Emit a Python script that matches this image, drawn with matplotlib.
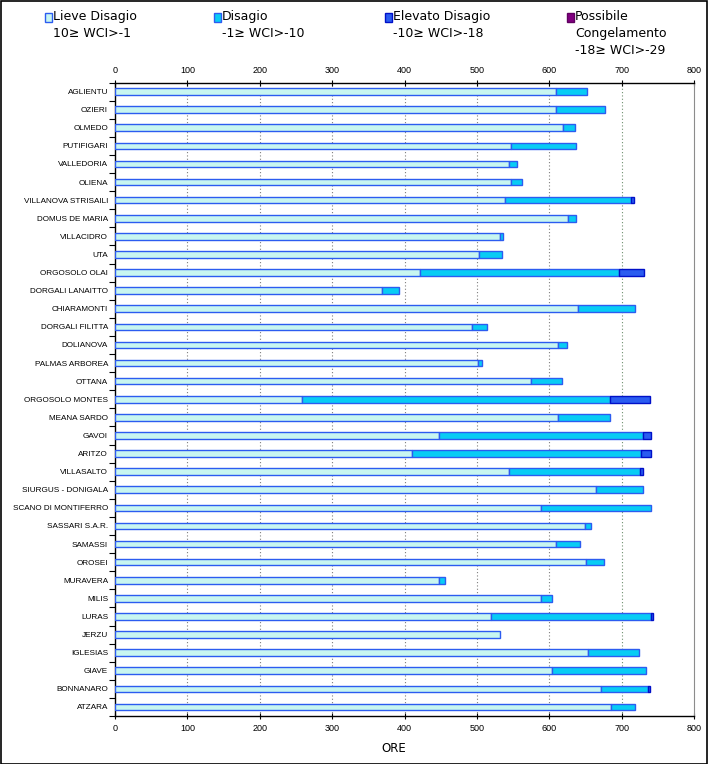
import matplotlib
matplotlib.use('Agg')
import matplotlib.pyplot as plt
from matplotlib.patches import Rectangle
import numpy as np

plt.rcParams['font.family'] = ['Liberation Sans', 'DejaVu Sans']

# ── dati (ore cumulative per soglia WCI) ─────────────────────────────────────
stazioni = [
    'AGLIENTU', 'OZIERI', 'OLMEDO', 'PUTIFIGARI', 'VALLEDORIA', 'OLIENA',
    'VILLANOVA STRISAILI', 'DOMUS DE MARIA', 'VILLACIDRO', 'UTA',
    'ORGOSOLO OLAI', 'DORGALI LANAITTO', 'CHIARAMONTI', 'DORGALI FILITTA',
    'DOLIANOVA', 'PALMAS ARBOREA', 'OTTANA', 'ORGOSOLO MONTES', 'MEANA SARDO',
    'GAVOI', 'ARITZO', 'VILLASALTO', 'SIURGUS - DONIGALA', 'SCANO DI MONTIFERRO',
    'SASSARI S.A.R.', 'SAMASSI', 'OROSEI', 'MURAVERA', 'MILIS', 'LURAS',
    'JERZU', 'IGLESIAS', 'GIAVE', 'BONNANARO', 'ATZARA',
]
lieve = [609, 609, 619, 547, 544, 547, 539, 626, 532, 503,
         421, 369, 640, 493, 612, 502, 575, 258, 612,
         447, 410, 545, 664, 589, 650, 609, 651, 447, 589, 519,
         532, 654, 604, 671, 686]
disagio = [43, 68, 17, 90, 12, 15, 174, 11, 4, 32,
           276, 24, 79, 21, 13, 5, 43, 426, 72,
           282, 317, 180, 65, 151, 7, 34, 24, 9, 15, 221,
           0, 70, 130, 65, 32]
elevato = [0, 0, 0, 0, 0, 0, 4, 0, 0, 0,
           34, 0, 0, 0, 0, 0, 0, 55, 0,
           11, 13, 5, 0, 0, 0, 0, 0, 0, 0, 3,
           0, 0, 0, 3, 0]
congelamento = [0] * len(stazioni)

serie_nomi = ['Lieve Disagio\n10\u2265 WCI>-1', 'Disagio\n-1\u2265 WCI>-10',
              'Elevato Disagio\n-10\u2265 WCI>-18',
              'Possibile\nCongelamento\n-18\u2265 WCI>-29']
colori = ['#C8F6F0', '#08CCF4', '#2A5CF0', '#800080']
bordi = ['#2C5CF0', '#2C5CF0', '#0010C8', '#600060']

fig = plt.figure(figsize=(7.08, 7.64), dpi=100)
ax = fig.add_axes([115 / 708, 1 - 716 / 764, 579 / 708, (716 - 82.5) / 764])

y = np.arange(len(stazioni))
left = np.zeros(len(stazioni))
for vals, c, ec in zip([lieve, disagio, elevato, congelamento], colori, bordi):
    v = np.array(vals, dtype=float)
    mask = v > 0
    ax.barh(y[mask], v[mask], left=left[mask], height=0.36,
            color=c, edgecolor=ec, linewidth=1.0, zorder=3)
    left += v

ax.set_xlim(0, 800)
ax.set_ylim(len(stazioni) - 0.5, -0.5)

# griglia verticale punteggiata
for xv in range(100, 800, 100):
    ax.axvline(xv, color='#6E8F6E' if xv == 700 else '#7F7F7F',
               linestyle=(0, (1, 2)), linewidth=0.8, zorder=1)

ax.set_xticks(range(0, 801, 100))
ax.tick_params(axis='x', which='both', top=True, labeltop=True, bottom=True,
               labelbottom=True, labelsize=6.5, length=4, width=0.8)
ax.tick_params(axis='x', which='major', top=True, direction='inout')
ax.set_yticks(y)
ax.set_yticklabels(stazioni, fontsize=5.9)
ax.set_yticks(np.arange(-0.5, len(stazioni), 1), minor=True)
ax.tick_params(axis='y', which='major', length=0, pad=5)
ax.tick_params(axis='y', which='minor', length=4, width=0.8, direction='out')

ax.spines['right'].set_color('#8C8C8C')
for s in ['left', 'top', 'bottom']:
    ax.spines[s].set_color('black')
    ax.spines[s].set_linewidth(1.0)

fig.text(394 / 708, 1 - 749 / 764, 'ORE', ha='center', va='center', fontsize=8.5,
         family=['DejaVu Sans'])

# legenda in alto
leg_x = [45, 214, 385, 567]
for xp, nome, c, ec in zip(leg_x, serie_nomi, colori, bordi):
    fig.patches.append(Rectangle((xp / 708, 1 - 22 / 764), 7 / 708, 9 / 764,
                                 transform=fig.transFigure, facecolor=c,
                                 edgecolor=ec, linewidth=1.0))
    fig.text((xp + 8) / 708, 1 - 10 / 764, nome, ha='left', va='top',
             fontsize=9, linespacing=1.4, family=['DejaVu Sans'])

# cornice esterna
fig.patches.append(Rectangle((0.5 / 708, 0.5 / 764), 706.5 / 708, 762.5 / 764,
                             transform=fig.transFigure, fill=False,
                             edgecolor='black', linewidth=1.2))

fig.savefig('out.png', dpi=100)
